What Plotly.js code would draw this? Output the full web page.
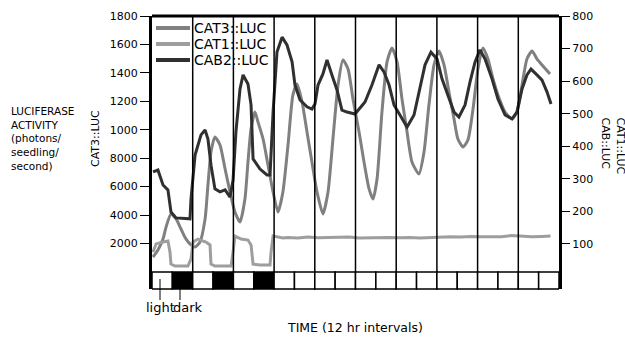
<!DOCTYPE html>
<html>
<head>
<meta charset="utf-8">
<script src="https://cdn.plot.ly/plotly-3.0.1.min.js"></script>
<style>html,body{margin:0;padding:0;background:#fff;}#chart{width:625px;height:339px;}</style>
</head>
<body>
<div id="chart"></div>
<script>
// ---- data ----
const seriesNames = ['CAT3::LUC', 'CAT1::LUC', 'CAB2::LUC'];
const seriesColors = ['#808080', '#9e9e9e', '#303030'];

const cat3Hours = [0.6,3.5,6.5,8.3,11.2,14.2,17.1,20.0,23.0,25.4,28.3,31.3,33.0,34.8,37.1,40.1,43.1,46.0,48.9,51.9,54.8,56.6,58.4,60.7,62.5,65.5,68.4,71.4,74.3,77.2,80.2,83.1,85.5,88.5,91.4,94.3,97.3,100.8,103.8,106.7,109.7,112.6,115.6,118.5,122.1,125.0,128.0,130.3,132.7,135.6,138.6,141.5,144.5,147.4,150.4,153.3,157.4,160.4,163.3,166.3,169.2,172.2,175.1,178.1,180.4,183.4,186.3,189.3,192.2,195.2,198.1,201.1,204.0,208.2,212.3,215.2,218.2,221.1,224.1,227.0,230.0,234.7];
const cat3Values = [105,155,232,316,408,373,302,232,190,176,211,373,612,844,949,893,724,563,422,352,513,774,1006,1125,1055,935,752,563,422,563,893,1245,1322,1195,984,774,563,408,563,935,1315,1491,1427,1217,984,774,584,513,654,1125,1477,1575,1477,1217,984,774,689,844,1174,1456,1554,1456,1266,1076,935,879,928,1146,1427,1575,1498,1357,1245,1125,1076,1125,1315,1498,1554,1498,1456,1392];

const cat1Hours = [0.6,2.4,6.5,9.4,10.6,11.2,13.6,21.2,23.0,24.2,27.1,31.8,34.2,34.8,37.1,46.6,47.8,48.9,52.5,56.6,58.4,59.6,63.7,69.6,70.2,71.4,77.2,80,86,92,98,104,110,116,122,128,134,140,146,152,158,164,170,176,182,188,194,200,206,212,218,224,230,235];
const cat1Values = [75,100,106,109,75,38,32,32,54,106,115,106,97,38,32,32,75,124,115,112,97,38,35,35,75,124,118,120,118,121,119,120,119,121,118,119,121,120,119,120,118,120,121,122,121,123,122,121,122,126,124,122,123,124];

const cab2Hours = [0.6,3.5,6.5,9.4,11.2,14.2,22.4,23.0,25.4,28.9,31.3,33.0,34.8,37.1,40.1,43.1,46.0,47.8,49.5,51.9,53.7,56.6,58.4,59.6,63.7,67.8,69.6,71.4,73.7,76.7,79.6,82.6,84.3,87.3,91.4,94.3,96.1,97.9,100.8,103.2,106.1,109.1,112.0,115.0,119.7,122.1,125.6,129.7,133.9,136.8,139.8,142.7,146.2,150.4,154.5,158.0,161.0,164.5,168.1,171.0,175.1,178.1,181.0,184.6,187.5,190.5,193.4,196.4,200.5,204.0,208.2,212.3,215.2,218.2,221.1,223.5,227.0,230.0,232.9,235.3];
const cab2Values = [321,327,281,266,198,180,177,238,373,435,450,422,342,269,260,266,244,296,444,576,619,591,527,361,330,312,312,505,689,735,711,659,588,542,521,514,530,588,622,665,619,573,511,505,499,514,536,588,650,628,588,527,496,459,496,576,650,689,668,607,545,505,490,527,597,659,696,668,607,545,496,484,505,576,619,637,619,603,567,530];

const photoperiod = ['light','dark','light','dark','light','dark','light','light','light','light','light','light','light','light','light','light','light','light','light','light'];
const intervalHours = 12;
const dayLineHours = [24,48,72,96,120,144,168,192,216];

const leftTickVals = [200,400,600,800,1000,1200,1400,1600,1800];
const leftTickText = ['2000','4000','6000','8000','1000','1200','1400','1600','1800'];
const rightTickVals = [100,200,300,400,500,600,700,800];
const rightTickText = ['100','200','300','400','500','600','700','800'];

// ---- figure ----
const FONT = 'DejaVu Sans, Arial, sans-serif';
const traces = [
  {x: cat3Hours, y: cat3Values, name: seriesNames[0], yaxis: 'y', type: 'scatter', mode: 'lines',
   line: {color: seriesColors[0], width: 3, shape: 'spline', smoothing: 0.6}},
  {x: cat1Hours, y: cat1Values, name: seriesNames[1], yaxis: 'y2', type: 'scatter', mode: 'lines',
   line: {color: seriesColors[1], width: 3}},
  {x: cab2Hours, y: cab2Values, name: seriesNames[2], yaxis: 'y2', type: 'scatter', mode: 'lines',
   line: {color: seriesColors[2], width: 3}}
];

const boxTop = 17 / 273; // paper height of the light/dark strip
const shapes = [];
photoperiod.forEach((p, i) => {
  shapes.push({type: 'rect', xref: 'x', yref: 'paper', x0: i * intervalHours, x1: (i + 1) * intervalHours,
    y0: 0, y1: boxTop, fillcolor: p === 'dark' ? '#000' : '#fff', line: {color: '#000', width: 1.5}, layer: 'above'});
});
dayLineHours.forEach(h => {
  shapes.push({type: 'line', xref: 'x', yref: 'paper', x0: h, x1: h, y0: boxTop, y1: 1,
    line: {color: '#000', width: 1.5}, layer: 'above'});
});
// top frame
shapes.push({type: 'line', xref: 'paper', yref: 'paper', x0: 0, x1: 1, y0: 1, y1: 1, line: {color: '#000', width: 3}});
// light / dark pointers
shapes.push({type: 'line', xref: 'paper', yref: 'paper', x0: 8/407, x1: 8/407, y0: 10/273, y1: -11/273, line: {color: '#000', width: 1}});
shapes.push({type: 'line', xref: 'paper', yref: 'paper', x0: 28/407, x1: 28/407, y0: 0, y1: -11/273, line: {color: '#000', width: 1}});

const annotations = [
  {text: 'LUCIFERASE<br>ACTIVITY<br>(photons/<br>seedling/<br>second)', xref: 'paper', yref: 'paper',
   x: -142/407, y: (289-138)/273, xanchor: 'left', yanchor: 'middle', align: 'left', showarrow: false,
   font: {family: FONT, size: 10.5, color: '#000'}, borderpad: 0},
  {text: 'CAT3::LUC', xref: 'paper', yref: 'paper', x: -57/407, y: (289-139)/273, textangle: -90,
   xanchor: 'center', yanchor: 'middle', showarrow: false, font: {family: FONT, size: 11, color: '#000'}, borderpad: 0},
  {text: 'CAT1::LUC<br>CAB::LUC', xref: 'paper', yref: 'paper', x: (613.5-152)/407, y: (289-146)/273, textangle: 90,
   align: 'left', xanchor: 'center', yanchor: 'middle', showarrow: false, font: {family: FONT, size: 11, color: '#000'}, borderpad: 0},
  {text: 'light', xref: 'paper', yref: 'paper', x: 23.5/407, y: -18/273, xanchor: 'right', yanchor: 'middle',
   showarrow: false, font: {family: FONT, size: 13, color: '#000'}, borderpad: 0},
  {text: 'dark', xref: 'paper', yref: 'paper', x: 20/407, y: -18/273, xanchor: 'left', yanchor: 'middle',
   showarrow: false, font: {family: FONT, size: 13, color: '#000'}, borderpad: 0},
  {text: 'TIME (12 hr intervals)', xref: 'paper', yref: 'paper', x: (355-152)/407, y: -38/273, xanchor: 'center', yanchor: 'middle',
   showarrow: false, font: {family: FONT, size: 12.5, color: '#000'}, borderpad: 0}
];
// custom legend (lines + labels) built from series names/colors
seriesNames.forEach((n, i) => {
  const yp = (289 - (28 + 16 * i)) / 273;
  shapes.push({type: 'line', xref: 'paper', yref: 'paper', x0: 4/407, x1: 38/407, y0: yp, y1: yp,
    line: {color: seriesColors[i], width: 4}});
  annotations.push({text: n, xref: 'paper', yref: 'paper', x: 41/407, y: yp, xanchor: 'left', yanchor: 'middle',
    showarrow: false, font: {family: FONT, size: 14, color: '#000'}, borderpad: 0});
});

const layout = {
  width: 625, height: 339,
  margin: {l: 152, r: 66, t: 16, b: 50, pad: 0},
  paper_bgcolor: '#fff', plot_bgcolor: '#fff',
  showlegend: false,
  font: {family: FONT, size: 11, color: '#000'},
  xaxis: {range: [0, 240], showticklabels: false, ticks: '', showgrid: false, zeroline: false, showline: false, fixedrange: true},
  yaxis: {range: [-120, 1800], tickvals: leftTickVals, ticktext: leftTickText, ticks: 'outside', ticklen: 9, tickwidth: 1,
    tickcolor: '#000', showline: true, linewidth: 3, linecolor: '#000', showgrid: false, zeroline: false,
    tickfont: {family: FONT, size: 11, color: '#000'}},
  yaxis2: {range: [-38.4, 800], overlaying: 'y', side: 'right', tickvals: rightTickVals, ticktext: rightTickText,
    ticks: 'outside', ticklen: 8, tickwidth: 1, tickcolor: '#000', showline: true, linewidth: 3, linecolor: '#000',
    showgrid: false, zeroline: false, tickfont: {family: FONT, size: 11, color: '#000'}},
  shapes: shapes,
  annotations: annotations
};

Plotly.newPlot('chart', traces, layout, {displayModeBar: false, staticPlot: true});
</script>
</body>
</html>
